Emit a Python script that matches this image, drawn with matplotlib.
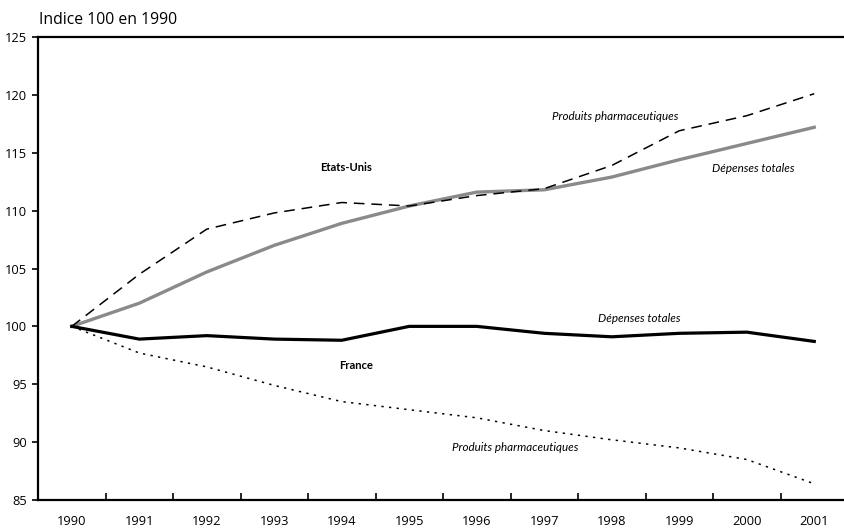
import matplotlib
matplotlib.use("Agg")
import matplotlib.pyplot as plt
import numpy as np

years = ["1990", "1991", "1992", "1993", "1994", "1995", "1996", "1997", "1998", "1999", "2000", "2001"]
us_pharma = [100, 104.5, 108.4, 109.8, 110.7, 110.4, 111.3, 111.9, 113.9, 116.9, 118.2, 120.1]
us_total = [100, 102.0, 104.7, 107.0, 108.9, 110.4, 111.6, 111.8, 112.9, 114.4, 115.8, 117.2]
fr_total = [100, 98.9, 99.2, 98.9, 98.8, 100.0, 100.0, 99.4, 99.1, 99.4, 99.5, 98.7]
fr_pharma = [100, 97.7, 96.5, 94.9, 93.5, 92.8, 92.1, 91.0, 90.2, 89.5, 88.5, 86.4]
yticks = [85, 90, 95, 100, 105, 110, 115, 120, 125]

tick_font = "Open Sans"
ann_font = "Lato"

fig = plt.figure(figsize=(8.45, 5.28), dpi=100)
ax = fig.add_axes([38/845, 1-500/528, 810/845, 463/528])

x = np.arange(len(years))
ax.plot(x, us_total, color="#8a8a8a", lw=2.4, solid_joinstyle="round", zorder=3)
ax.plot(x, us_pharma, color="black", lw=1.1, dashes=(7, 4.5), zorder=4)
ax.plot(x, fr_total, color="black", lw=2.3, solid_joinstyle="round", zorder=3)
ax.plot(x, fr_pharma, color="black", lw=1.1, dashes=(1.5, 3.5), zorder=4)

ax.set_xlim(-0.5, len(years) - 0.5)
ax.set_ylim(85, 125)
ax.set_yticks(yticks)
ax.set_yticklabels([str(v) for v in yticks], fontsize=9.3, family=tick_font)
ax.set_xticks(x)
ax.set_xticklabels(years, fontsize=9.3, family=tick_font)
ax.set_xticks(np.arange(0.5, len(years) - 0.5, 1), minor=True)
ax.tick_params(axis="x", which="major", length=0, pad=11)
ax.tick_params(axis="x", which="minor", direction="in", length=5, width=1.2)
ax.tick_params(axis="y", direction="out", length=4, width=1.2, pad=4)

for s in ["left", "bottom", "top"]:
    ax.spines[s].set_linewidth(1.6)
ax.spines["right"].set_visible(False)

fig.text(39/845, 1-20/528, "Indice 100 en 1990", fontsize=11.3, family=tick_font,
         ha="left", va="center")

kw = dict(family=ann_font, ha="center", va="center")
ax.text(4.07, 113.7, "Etats-Unis", fontweight="bold", fontsize=8.1, **kw)
ax.text(4.21, 96.6, "France", fontweight="bold", fontsize=8.1, **kw)
ax.text(8.05, 118.1, "Produits pharmaceutiques", style="italic", fontsize=8.4, **kw)
ax.text(10.09, 113.6, "Dépenses totales", style="italic", fontsize=8.4, **kw)
ax.text(8.4, 100.7, "Dépenses totales", style="italic", fontsize=8.4, **kw)
ax.text(6.57, 89.5, "Produits pharmaceutiques", style="italic", fontsize=8.4, **kw)

fig.savefig("out.png", dpi=100)
